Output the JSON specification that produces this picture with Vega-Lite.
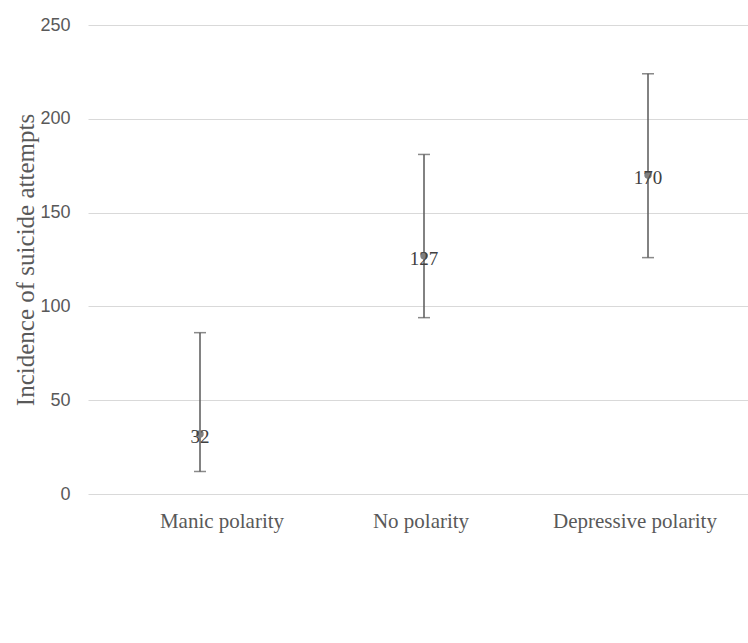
{
  "$schema": "https://vega.github.io/schema/vega-lite/v6.json",
  "autosize": "none",
  "padding": {"left": 88, "top": 25, "right": 0, "bottom": 149},
  "width": 660,
  "height": 469,
  "background": "white",
  "config": {"view": {"stroke": null}},
  "data": {
    "values": [
      {"group": "Manic polarity", "incidence": 32, "low": 12, "high": 86},
      {"group": "No polarity", "incidence": 127, "low": 94, "high": 181},
      {"group": "Depressive polarity", "incidence": 170, "low": 126, "high": 224}
    ]
  },
  "encoding": {
    "x": {
      "field": "group",
      "type": "nominal",
      "sort": null,
      "scale": {"paddingInner": 0, "paddingOuter": 0, "range": [0, 672]},
      "axis": {
        "title": null,
        "labelAngle": 0,
        "domain": false,
        "ticks": false,
        "labelPadding": 16,
        "labelFont": "Liberation Serif",
        "labelFontSize": 21,
        "labelColor": "#595959",
        "labelOffset": {"expr": "datum.value == 'Manic polarity' ? 22 : datum.value == 'No polarity' ? -3 : -13"}
      }
    }
  },
  "layer": [
    {
      "mark": {"type": "rule", "color": "#595959", "strokeWidth": 1.5},
      "encoding": {
        "y": {
          "field": "low",
          "type": "quantitative",
          "scale": {"domain": [0, 250], "range": [469, 0], "nice": false},
          "axis": {
            "values": [0, 50, 100, 150, 200, 250],
            "title": "Incidence of suicide attempts",
            "titleFont": "Liberation Serif",
            "titleFontSize": 25,
            "titleFontWeight": "normal",
            "titleColor": "#595959",
            "titleAngle": -90,
            "titleAlign": "center",
            "titleBaseline": "alphabetic",
            "titleX": -55,
            "titleY": 234.5,
            "domain": false,
            "ticks": false,
            "labelPadding": 18,
            "labelFont": "Liberation Sans",
            "labelFontSize": 18,
            "labelColor": "#595959",
            "gridColor": "#d9d9d9",
            "gridWidth": 1
          }
        },
        "y2": {"field": "high"}
      }
    },
    {
      "mark": {"type": "tick", "color": "#595959", "thickness": 1.5, "size": 12, "orient": "horizontal"},
      "encoding": {"y": {"field": "low", "type": "quantitative"}}
    },
    {
      "mark": {"type": "tick", "color": "#595959", "thickness": 1.5, "size": 12, "orient": "horizontal"},
      "encoding": {"y": {"field": "high", "type": "quantitative"}}
    },
    {
      "mark": {"type": "point", "filled": true, "color": "#808080", "size": 55, "opacity": 1},
      "encoding": {"y": {"field": "incidence", "type": "quantitative"}}
    },
    {
      "mark": {"type": "text", "font": "Liberation Serif", "fontSize": 19, "color": "#404040", "baseline": "middle", "dy": 3},
      "encoding": {
        "y": {"field": "incidence", "type": "quantitative"},
        "text": {"field": "incidence", "type": "quantitative"}
      }
    }
  ]
}
